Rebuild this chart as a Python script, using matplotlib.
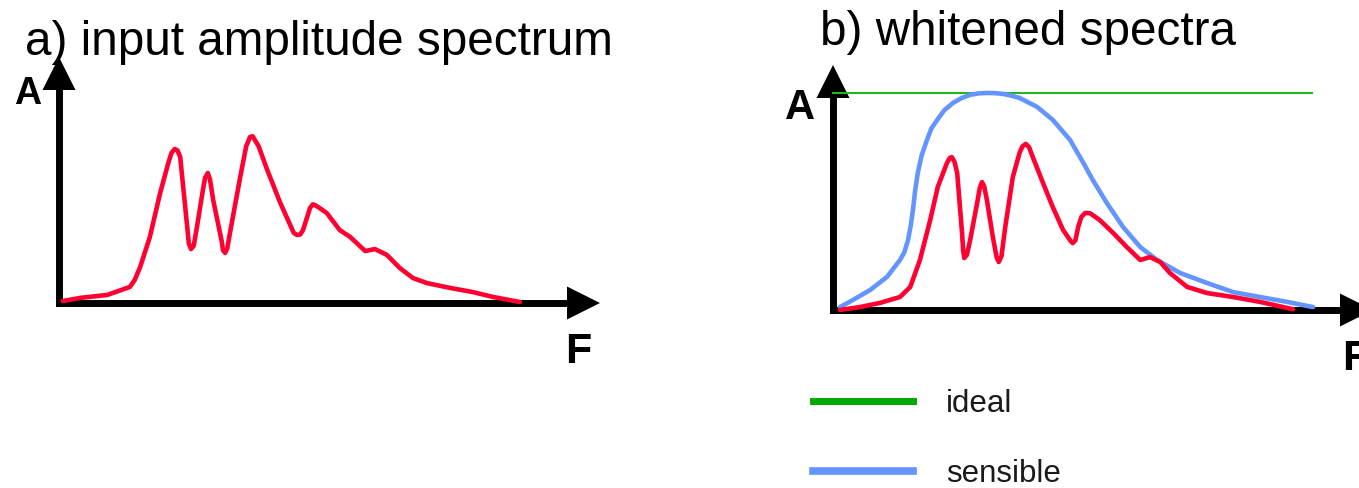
import matplotlib
matplotlib.use('Agg')
import matplotlib.pyplot as plt
from matplotlib.lines import Line2D

W, H = 1359, 488
DPI = 100

# panel a: input amplitude spectrum
freq_in = [0.7, 3.9, 8.9, 13.1, 14.0, 15.0, 16.8, 18.7, 20.2, 20.8, 21.4, 21.9,
           22.4, 23.7, 24.0, 24.4, 24.9, 25.5, 26.6, 27.0, 27.5, 27.9, 28.5,
           30.1, 30.3, 30.7, 31.1, 31.6, 33.5, 34.6, 35.3, 35.8, 36.2, 36.9,
           38.5, 40.9, 43.4, 44.0, 44.6, 45.1, 46.4, 46.9, 47.3, 47.9, 49.5,
           51.9, 53.8, 56.6, 58.4, 60.6, 63.0, 65.4, 68.0, 72.3, 76.5, 80.2,
           85.2]
amp_in = [0.8, 2.1, 3.3, 6.6, 9.5, 14.8, 27.2, 45.3, 57.6, 61.8, 63.4, 62.8,
          60.1, 31.3, 24.5, 22.2, 23.5, 31.3, 46.5, 51.5, 53.5, 51.0, 42.4,
          25.1, 21.8, 20.6, 22.5, 28.8, 51.9, 64.5, 68.3, 68.6, 67.1, 64.5,
          54.7, 41.2, 28.8, 28.0, 28.2, 30.0, 39.1, 40.6, 40.3, 39.5, 37.0,
          30.0, 27.2, 21.4, 22.2, 19.8, 14.4, 10.3, 8.2, 6.2, 4.5, 2.5, 0.4]

# panel b: whitened spectra
freq_white = [1.3, 5.0, 8.7, 12.4, 14.3, 16.1, 18.0, 19.4, 21.1, 21.6, 22.0,
              22.5, 23.0, 23.9, 24.1, 24.3, 24.8, 25.4, 26.7, 27.2, 27.6, 28.0,
              28.5, 29.6, 30.3, 30.7, 31.2, 31.9, 33.3, 34.6, 35.1, 35.7, 36.3,
              37.0, 38.9, 40.7, 42.6, 44.0, 44.4, 44.9, 45.4, 46.0, 46.7, 47.6,
              49.4, 51.9, 54.4, 56.9, 58.7, 60.6, 62.4, 65.6, 69.3, 74.1, 79.1,
              85.2]
amp_white = [0.0, 1.2, 2.9, 5.3, 9.4, 20.4, 36.7, 50.2, 60.0, 62.0, 62.4,
             60.5, 55.9, 31.4, 24.5, 21.2, 22.5, 28.6, 43.7, 50.0, 52.2, 50.5,
             44.9, 29.8, 21.5, 19.6, 22.0, 33.9, 54.3, 64.5, 66.8, 67.8, 66.5,
             62.4, 51.8, 42.0, 32.7, 28.2, 27.3, 28.5, 33.9, 38.0, 39.6, 39.5,
             36.7, 31.4, 25.7, 20.4, 21.6, 19.6, 15.1, 9.4, 6.9, 5.3, 3.3, 0.3]

freq_sensible = [1.3, 3.7, 6.9, 10.0, 12.4, 13.2, 13.9, 14.4, 14.8, 15.2, 15.7,
                 16.4, 17.4, 18.2, 19.3, 20.6, 22.2, 23.8, 25.4, 26.9, 28.5,
                 30.0, 31.5, 33.0, 34.6, 37.8, 40.7, 43.9, 46.5, 48.1, 50.7,
                 53.7, 56.9, 60.0, 64.3, 69.3, 74.1, 79.1, 84.1, 88.9]
amp_sensible = [1.2, 4.1, 8.2, 13.5, 20.4, 23.5, 28.6, 34.5, 40.8, 48.5, 55.9,
                63.0, 69.4, 74.0, 77.6, 81.5, 84.5, 86.5, 87.8, 88.4, 88.6,
                88.5, 88.2, 87.5, 86.5, 82.9, 77.6, 69.4, 59.5, 53.1, 43.7,
                33.9, 25.7, 20.4, 15.1, 11.0, 7.3, 5.3, 3.3, 1.2]

ideal_freq = [0.0, 88.7]
ideal_amp = [88.6, 88.6]

legend_labels = ['ideal', 'sensible']

RED = '#ff0030'
BLUE = '#6495ff'
GREEN = '#1fb81f'
LEGEND_GREEN = '#00aa00'
FONT = 'Liberation Sans'
HEAD_PX = 33
AXIS_LW = 5


def fx(px):
    return px / W


def fy(py):
    return 1 - py / H


def add_axes_px(fig, x0, y0, width, height):
    # x0, y0 is where the two arrows meet (pixels from the top-left)
    return fig.add_axes([fx(x0), fy(y0), width / W, height / H])


def draw_arrows(ax, xmax, ymax):
    ax.set_xlim(0, xmax)
    ax.set_ylim(0, ymax)
    ax.axis('off')
    pos = ax.get_position()
    hx = HEAD_PX / (pos.width * W / xmax)
    hy = HEAD_PX / (pos.height * H / ymax)
    ax.plot([0, xmax - hx * 0.5], [0, 0], color='k', lw=AXIS_LW,
            solid_capstyle='projecting', clip_on=False, zorder=2)
    ax.plot([0, 0], [0, ymax - hy * 0.5], color='k', lw=AXIS_LW,
            solid_capstyle='projecting', clip_on=False, zorder=2)
    style = '-|>,head_length=1.0,head_width=0.5'
    scale = HEAD_PX * 72 / DPI
    for tip, tail in [((xmax, 0), (xmax - hx, 0)), ((0, ymax), (0, ymax - hy))]:
        ax.annotate('', xy=tip, xytext=tail, annotation_clip=False,
                    arrowprops=dict(arrowstyle=style, mutation_scale=scale,
                                    lw=0, color='k', shrinkA=0, shrinkB=0),
                    zorder=2)


fig = plt.figure(figsize=(W / DPI, H / DPI), dpi=DPI)

ax_a = add_axes_px(fig, 59, 303, 541, 246)
draw_arrows(ax_a, 100, 246 / 2.43)
ax_a.plot(freq_in, amp_in, color=RED, lw=3.3, clip_on=False, zorder=3,
          solid_joinstyle='round', solid_capstyle='round')

ax_b = add_axes_px(fig, 833, 310, 540, 245)
draw_arrows(ax_b, 100, 100)
ax_b.plot(ideal_freq, ideal_amp, color=GREEN, lw=1.5, clip_on=False, zorder=3)
ax_b.plot(freq_sensible, amp_sensible, color=BLUE, lw=3.3, clip_on=False,
          zorder=3, solid_joinstyle='round', solid_capstyle='round')
ax_b.plot(freq_white, amp_white, color=RED, lw=3.3, clip_on=False, zorder=4,
          solid_joinstyle='round', solid_capstyle='round')

fig.text(fx(25), fy(55), 'a) input amplitude spectrum', fontsize=34.3,
         family=FONT, va='baseline', ha='left')
fig.text(fx(820), fy(45), 'b) whitened spectra', fontsize=34.3,
         family=FONT, va='baseline', ha='left')
fig.text(fx(14), fy(104), 'A', fontsize=27, weight='bold', family=FONT,
         va='baseline', ha='left')
fig.text(fx(785), fy(119), 'A', fontsize=30, weight='bold', family=FONT,
         va='baseline', ha='left')
fig.text(fx(565), fy(363), 'F', fontsize=31, weight='bold', family=FONT,
         va='baseline', ha='left')
# the second F sits against the right border, as the arrow runs off the figure
fig.text(fx(1342), fy(370), 'F', fontsize=31, weight='bold', family=FONT,
         va='baseline', ha='left')

handles = [Line2D([], [], color=LEGEND_GREEN, lw=5),
           Line2D([], [], color=BLUE, lw=5.5)]
fig.legend(handles, legend_labels, loc='upper left',
           bbox_to_anchor=(fx(813), fy(389)), frameon=False,
           prop={'family': FONT, 'size': 22.5}, labelcolor='#1a1a1a',
           handlelength=3.2, handletextpad=1.05, labelspacing=1.27,
           borderpad=0, borderaxespad=0)

fig.savefig('out.png', dpi=DPI)
